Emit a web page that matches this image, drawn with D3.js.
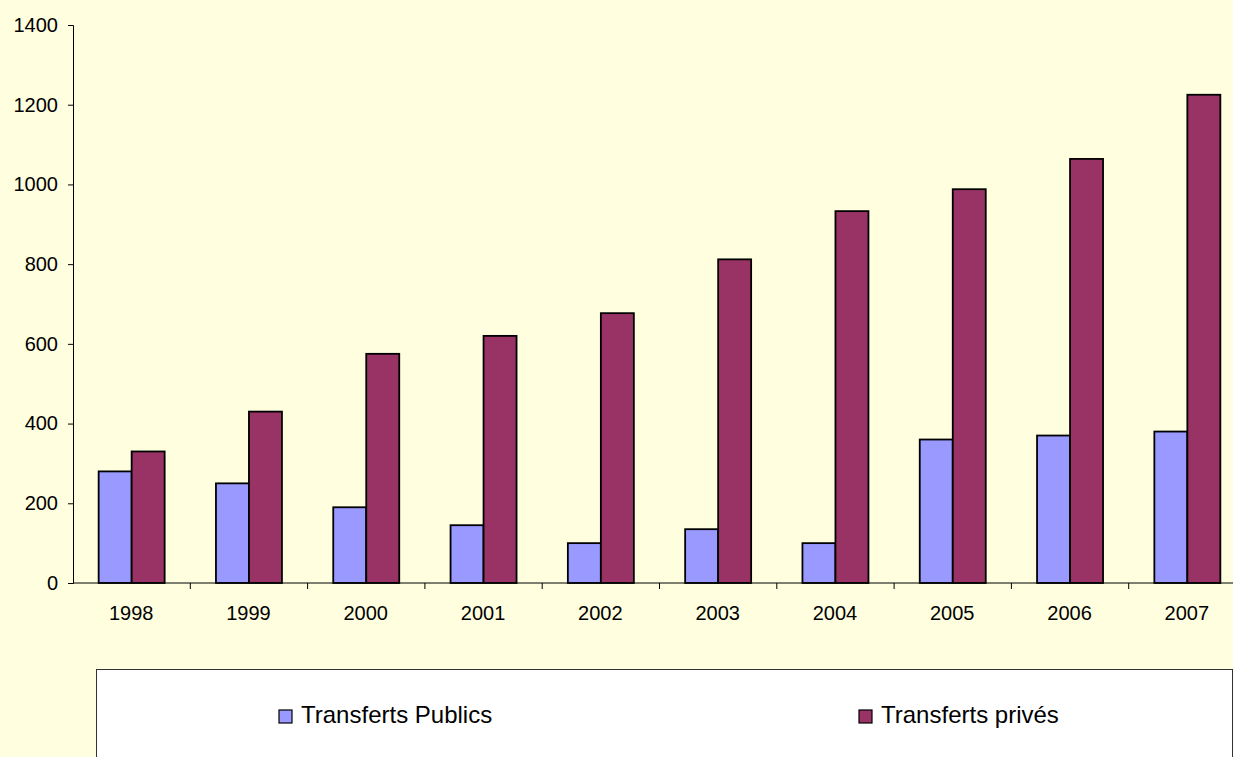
<!DOCTYPE html>
<html>
<head>
<meta charset="utf-8">
<script src="https://cdn.jsdelivr.net/npm/d3@7"></script>
<style>
  html, body { margin: 0; padding: 0; background: #ffffe0; }
  svg text { font-family: "Liberation Sans", Arial, sans-serif; fill: #000; }
</style>
</head>
<body>
<script>

// Data.
var years = ['1998', '1999', '2000', '2001', '2002', '2003', '2004', '2005', '2006', '2007'];
var publics = [280, 250, 190, 145, 100, 135, 100, 360, 370, 380];
var prives = [330, 430, 575, 620, 677, 812, 933, 988, 1064, 1225];
var seriesNames = ['Transferts Publics', 'Transferts privés'];
var seriesColors = ['#9999ff', '#993366'];
var yTicks = [0, 200, 400, 600, 800, 1000, 1200, 1400];

var width = 1233, height = 757;

var svg = d3.select('body').append('svg')
  .attr('width', width)
  .attr('height', height);

svg.append('rect')
  .attr('width', width).attr('height', height)
  .attr('fill', '#ffffe0');

// Scales.
var x = d3.scaleBand().domain(years).range([73, 1246]);
var inner = d3.scaleBand().domain([0, 1]).range([0, 66]);
var y = d3.scaleLinear().domain([0, 1400]).range([583, 25]);

// Bars.
var rows = years.map(function(yr, i) {
  return { year: yr, values: [publics[i], prives[i]] };
});

var groups = svg.selectAll('g.year')
  .data(rows).enter().append('g')
  .attr('transform', function(d) {
    return 'translate(' + (x(d.year) + x.bandwidth() / 2 - 33) + ',0)';
  });

groups.selectAll('rect')
  .data(function(d) { return d.values; })
  .enter().append('rect')
  .attr('x', function(d, i) { return inner(i); })
  .attr('width', inner.bandwidth())
  .attr('y', function(d) { return y(d); })
  .attr('height', function(d) { return y(0) - y(d); })
  .attr('fill', function(d, i) { return seriesColors[i]; })
  .attr('stroke', '#000')
  .attr('stroke-width', 1.8);

// Y axis.
var yAxis = svg.append('g')
  .attr('transform', 'translate(73,0)')
  .call(d3.axisLeft(y).tickValues(yTicks).tickSize(5).tickPadding(10).tickFormat(d3.format('d')));

// X axis.
var xTickPos = years.map(function(d) { return x(d); }).slice(1);
var xAxis = svg.append('g')
  .attr('transform', 'translate(0,583)');
xAxis.append('line')
  .attr('x1', 73).attr('x2', 1246)
  .attr('stroke', '#000');
xAxis.selectAll('line.tick')
  .data(xTickPos).enter().append('line')
  .attr('x1', function(d) { return d; }).attr('x2', function(d) { return d; })
  .attr('y1', 0).attr('y2', 6)
  .attr('stroke', '#000');
xAxis.selectAll('text')
  .data(years).enter().append('text')
  .attr('x', function(d) { return x(d) + x.bandwidth() / 2 - 0.5; })
  .attr('y', 37)
  .attr('text-anchor', 'middle')
  .style('font-size', '20px')
  .text(function(d) { return d; });

yAxis.select('.domain').attr('stroke', '#000');
yAxis.selectAll('.tick line').attr('stroke', '#000');
yAxis.selectAll('.tick text')
  .style('font-size', '20px')
  .style('font-family', '"Liberation Sans", Arial, sans-serif');

// Legend.
var legend = svg.append('g');
legend.append('rect')
  .attr('x', 96.5).attr('y', 669.5)
  .attr('width', 1136).attr('height', 120)
  .attr('fill', '#fff')
  .attr('stroke', '#333');

var legendX = [279, 859];
var items = legend.selectAll('g.item')
  .data(seriesNames).enter().append('g')
  .attr('transform', function(d, i) { return 'translate(' + legendX[i] + ',710)'; });

items.append('rect')
  .attr('width', 13).attr('height', 13)
  .attr('fill', function(d, i) { return seriesColors[i]; })
  .attr('stroke', '#000')
  .attr('stroke-width', 1.2);

items.append('text')
  .attr('x', 22).attr('y', 13)
  .style('font-size', '24px')
  .text(function(d) { return d; });

</script>
</body>
</html>
